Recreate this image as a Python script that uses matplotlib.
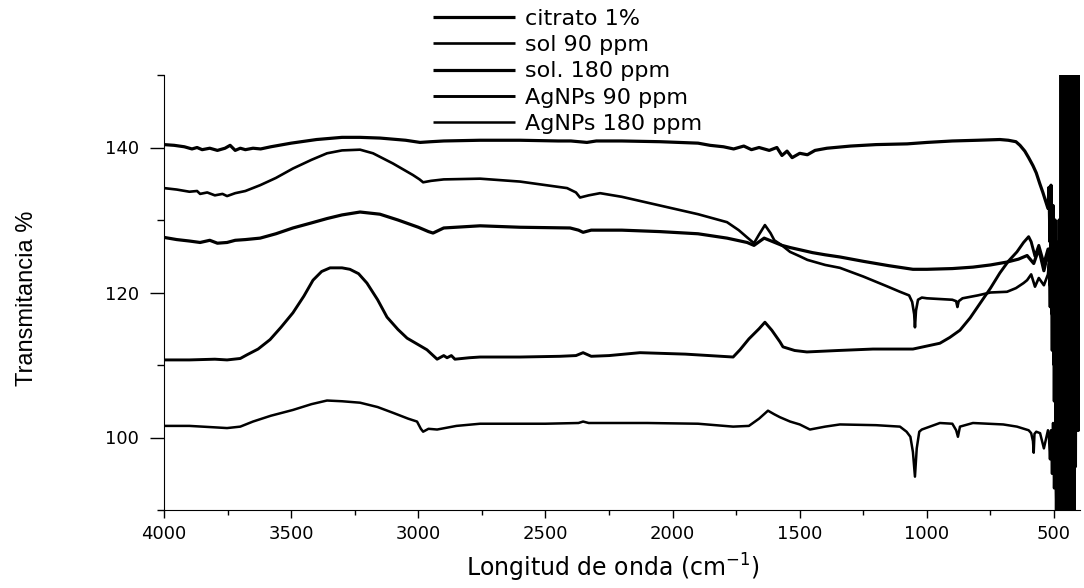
import matplotlib
matplotlib.use("Agg")
import matplotlib.pyplot as plt
from matplotlib.ticker import MultipleLocator

plt.rcParams['font.family'] = ['DejaVu Sans']

# espectros FTIR (numero de onda cm-1, transmitancia %)
labels = ['citrato 1%', 'sol 90 ppm', 'sol. 180 ppm', 'AgNPs 90 ppm', 'AgNPs 180 ppm']

wn1 = [4000, 3960, 3920, 3890, 3870, 3850, 3820, 3790, 3760, 3740, 3720, 3700, 3680, 3650, 3620, 3580,
       3500, 3400, 3300, 3229, 3150, 3050, 2993, 2950, 2900, 2757, 2600, 2450, 2400, 2337, 2300, 2200,
       2050, 1900, 1853, 1800, 1760, 1720, 1690, 1660, 1620, 1590, 1570, 1550, 1530, 1500, 1470, 1440,
       1393, 1300, 1200, 1078, 1000, 900, 800, 713, 680, 650, 634, 615, 600, 583, 570, 556, 544, 535, 524]
t1 = [140.4, 140.3, 140.1, 139.8, 140.0, 139.7, 139.9, 139.6, 139.9, 140.3, 139.6, 139.9, 139.7, 139.9, 139.8, 140.1,
      140.6, 141.1, 141.4, 141.4, 141.3, 141.0, 140.7, 140.8, 140.9, 141.0, 141.0, 140.9, 140.9, 140.7, 140.9, 140.9,
      140.8, 140.6, 140.3, 140.1, 139.8, 140.2, 139.7, 140.0, 139.6, 140.0, 138.9, 139.5, 138.6, 139.2, 139.0, 139.6,
      139.9, 140.2, 140.4, 140.5, 140.7, 140.9, 141.0, 141.1, 141.0, 140.8, 140.3, 139.5, 138.6, 137.5, 136.5, 135.0,
      133.8, 132.8, 131.6]

wn2 = [4000, 3950, 3900, 3870, 3858, 3830, 3800, 3770, 3752, 3720, 3680, 3622, 3560, 3493, 3420, 3359,
       3300, 3229, 3178, 3100, 3021, 2995, 2981, 2950, 2900, 2757, 2600, 2415, 2380, 2364, 2330, 2285,
       2200, 2050, 1900, 1786, 1740, 1707, 1680, 1660, 1637, 1615, 1600, 1570, 1538, 1500, 1470, 1440,
       1400, 1342, 1250, 1160, 1106, 1070, 1058, 1050, 1047, 1043, 1035, 1020, 1000, 950, 900, 885,
       880, 875, 860, 800, 750, 685, 650, 620, 606, 590, 575, 560, 540, 524]
t2 = [134.4, 134.2, 133.9, 134.0, 133.6, 133.8, 133.4, 133.6, 133.3, 133.7, 134.0, 134.8, 135.8, 137.1, 138.3, 139.2,
      139.6, 139.7, 139.2, 137.8, 136.2, 135.6, 135.2, 135.4, 135.6, 135.7, 135.3, 134.4, 133.8, 133.1, 133.4, 133.7,
      133.2, 132.0, 130.8, 129.7, 128.6, 127.6, 126.8, 128.0, 129.3, 128.2, 127.2, 126.5, 125.6, 125.0, 124.5, 124.2,
      123.8, 123.4, 122.2, 120.9, 120.1, 119.6, 118.7, 117.0, 115.2, 117.5, 119.0, 119.3, 119.2, 119.1, 119.0, 118.8,
      118.0, 118.8, 119.2, 119.6, 120.0, 120.1, 120.6, 121.3, 121.7, 122.5, 120.8, 122.0, 121.0, 122.5]

wn3 = [4000, 3950, 3900, 3858, 3820, 3790, 3752, 3720, 3680, 3622, 3560, 3493, 3420, 3359, 3300, 3229,
       3151, 3080, 3000, 2960, 2942, 2900, 2757, 2600, 2403, 2370, 2352, 2320, 2200, 2050, 1900, 1786,
       1707, 1680, 1640, 1605, 1570, 1538, 1500, 1450, 1400, 1342, 1250, 1150, 1055, 1000, 900, 819,
       750, 685, 640, 606, 580, 560, 540, 524]
t3 = [127.6, 127.3, 127.1, 126.9, 127.2, 126.8, 126.9, 127.2, 127.3, 127.5, 128.1, 128.9, 129.6, 130.2, 130.7, 131.1,
      130.8, 130.0, 129.0, 128.4, 128.2, 128.9, 129.2, 129.0, 128.9, 128.6, 128.3, 128.6, 128.6, 128.4, 128.1, 127.5,
      126.9, 126.5, 127.5, 127.0, 126.5, 126.2, 125.9, 125.5, 125.2, 124.9, 124.3, 123.7, 123.2, 123.2, 123.3, 123.5,
      123.8, 124.2, 124.6, 125.1, 124.0, 126.0, 123.0, 125.5]

wn4 = [4000, 3900, 3800, 3752, 3700, 3674, 3630, 3583, 3540, 3493, 3450, 3414, 3380, 3347, 3300, 3269,
       3235, 3202, 3160, 3123, 3080, 3044, 3000, 2966, 2926, 2900, 2887, 2870, 2856, 2800, 2757, 2600,
       2443, 2380, 2352, 2320, 2250, 2128, 1950, 1762, 1735, 1700, 1660, 1637, 1610, 1578, 1566, 1520,
       1472, 1350, 1212, 1055, 949, 910, 870, 830, 791, 750, 713, 680, 646, 620, 600, 590, 575, 560,
       540, 524]
t4 = [110.7, 110.7, 110.8, 110.7, 110.9, 111.4, 112.2, 113.5, 115.2, 117.2, 119.5, 121.7, 122.9, 123.4, 123.4, 123.2,
      122.6, 121.3, 119.0, 116.6, 114.9, 113.7, 112.8, 112.1, 110.8, 111.3, 111.0, 111.3, 110.8, 111.0, 111.1, 111.1,
      111.2, 111.3, 111.7, 111.2, 111.3, 111.7, 111.5, 111.1, 112.1, 113.6, 115.0, 115.9, 114.8, 113.2, 112.5, 112.0,
      111.8, 112.0, 112.2, 112.2, 113.0, 113.8, 114.8, 116.5, 118.5, 120.6, 122.7, 124.3, 125.6, 126.9, 127.7, 127.0,
      125.0, 126.5, 124.0, 126.0]

wn5 = [4000, 3900, 3800, 3752, 3700, 3650, 3580, 3493, 3420, 3359, 3300, 3229, 3160, 3099, 3040, 3005,
       2990, 2981, 2960, 2926, 2850, 2757, 2500, 2370, 2352, 2330, 2100, 1900, 1762, 1700, 1660, 1625,
       1600, 1578, 1538, 1500, 1460, 1400, 1342, 1200, 1106, 1080, 1065, 1055, 1047, 1040, 1030, 1020,
       949, 900, 885, 878, 870, 819, 700, 646, 600, 590, 583, 580, 577, 570, 555, 540, 524]
t5 = [101.6, 101.6, 101.4, 101.3, 101.5, 102.2, 103.0, 103.8, 104.6, 105.1, 105.0, 104.8, 104.2, 103.4, 102.6, 102.2,
      101.2, 100.8, 101.2, 101.1, 101.6, 101.9, 101.9, 102.0, 102.2, 102.0, 102.0, 101.9, 101.5, 101.6, 102.6, 103.7,
      103.2, 102.8, 102.2, 101.8, 101.1, 101.5, 101.8, 101.7, 101.5, 100.8, 100.1, 98.0, 94.6, 98.5, 100.8, 101.1,
      102.0, 101.9, 101.0, 100.1, 101.5, 102.0, 101.8, 101.5, 101.0, 100.6, 99.5, 97.9, 100.5, 100.8, 100.6, 98.5,
      101.0]

# zona de ruido por debajo de 520 cm-1 (saturada)
tail_wn = [520, 516, 512, 508, 504, 500, 496, 492, 488, 484, 480, 476, 472, 468, 464, 460,
           456, 452, 448, 444, 440, 436, 432, 428, 424, 420, 416, 412, 408, 404, 400]
tail1 = [134.5, 127, 134.8, 124, 132, 118, 130, 112, 127, 104, 122, 96, 118, 152, 88, 152,
         88, 152, 88, 152, 88, 152, 88, 152, 88, 152, 96, 152, 101, 152, 101]
tail2 = [124, 118, 126, 112, 128, 105, 126, 98, 124, 92, 120, 88, 152, 88, 152, 88,
         152, 88, 152, 88, 152, 88, 152, 88, 152, 92, 152, 101, 152, 101, 150]
tail3 = [126, 121, 127, 117, 126, 110, 125, 100, 123, 94, 130, 88, 152, 88, 152, 88,
         152, 88, 152, 88, 152, 88, 152, 88, 152, 95, 152, 101, 152, 102, 152]
tail4 = [125, 122, 127, 119, 126, 112, 124, 104, 122, 95, 118, 88, 152, 88, 152, 88,
         152, 88, 152, 88, 152, 88, 152, 88, 152, 98, 152, 101, 152, 101, 152]
tail5 = [100, 97, 101, 95, 102, 93, 100, 90, 99, 88, 104, 88, 110, 88, 152, 88,
         152, 88, 152, 88, 152, 88, 152, 88, 150, 90, 152, 101, 150, 101, 148]

series = [(wn1, t1, tail1), (wn2, t2, tail2), (wn3, t3, tail3), (wn4, t4, tail4), (wn5, t5, tail5)]
widths = [2.3, 1.9, 2.3, 2.1, 1.8]

fig = plt.figure(figsize=(10.84, 5.88), dpi=100)
ax = fig.add_axes([164 / 1084, 1 - 510 / 588, 916 / 1084, 435 / 588])

for (wn, t, tail), lab, lw in zip(series, labels, widths):
    ax.plot(wn + tail_wn, t + tail, color='black', lw=lw, label=lab,
            solid_joinstyle='round', solid_capstyle='butt')

ax.set_xlim(4000, 398)
ax.set_ylim(90, 150)
ax.spines['top'].set_visible(False)
ax.spines['right'].set_visible(False)
ax.xaxis.set_major_locator(MultipleLocator(500))
ax.xaxis.set_minor_locator(MultipleLocator(250))
ax.yaxis.set_major_locator(MultipleLocator(20))
ax.yaxis.set_minor_locator(MultipleLocator(10))
ax.tick_params(axis='x', which='major', direction='out', length=6, width=1, pad=5, labelsize=13)
ax.tick_params(axis='x', which='minor', direction='out', length=3.5, width=1)
ax.tick_params(axis='y', which='major', direction='out', length=10, width=1, pad=8, labelsize=13)
ax.tick_params(axis='y', which='minor', direction='out', length=5, width=1)

ax.set_xlabel('Longitud de onda (cm$^{-1}$)', fontsize=17)
ax.xaxis.set_label_coords((613 - 164) / 916, (510 - 552) / 435)
ax.set_ylabel('Transmitancia %', fontsize=17, family=['Liberation Sans Narrow', 'Liberation Sans'])
ax.yaxis.set_label_coords((38 - 164) / 916, (510 - 298) / 435)

fig.legend(loc='upper left', bbox_to_anchor=(433 / 1084, 1 - 9 / 588), frameon=False,
           fontsize=16, handlelength=3.7, handletextpad=0.45, labelspacing=0.28,
           borderpad=0, borderaxespad=0)

fig.savefig('out.png', dpi=100)
